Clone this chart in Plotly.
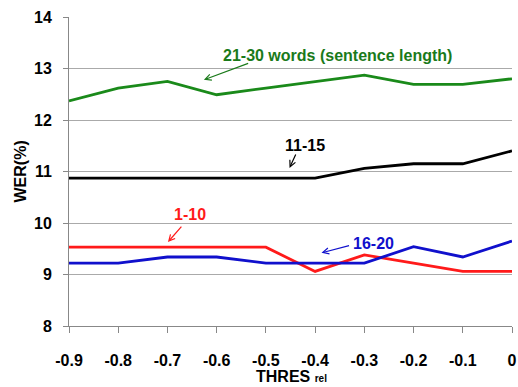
import plotly.graph_objects as go

x_vals = [-0.9, -0.8, -0.7, -0.6, -0.5, -0.4, -0.3, -0.2, -0.1, 0.0]
wer_21_30 = [12.37, 12.62, 12.75, 12.49, 12.62, 12.75, 12.87, 12.69, 12.69, 12.80]
wer_11_15 = [10.87, 10.87, 10.87, 10.87, 10.87, 10.87, 11.06, 11.15, 11.15, 11.40]
wer_1_10 = [9.53, 9.53, 9.53, 9.53, 9.53, 9.06, 9.38, 9.22, 9.06, 9.06]
wer_16_20 = [9.22, 9.22, 9.34, 9.34, 9.22, 9.22, 9.22, 9.54, 9.34, 9.65]
x_ticks = [-0.9, -0.8, -0.7, -0.6, -0.5, -0.4, -0.3, -0.2, -0.1, 0]
x_tick_labels = ["-0.9", "-0.8", "-0.7", "-0.6", "-0.5", "-0.4", "-0.3", "-0.2", "-0.1", "0"]
y_ticks = [8, 9, 10, 11, 12, 13, 14]

FONT = "Liberation Sans, Arial, sans-serif"

fig = go.Figure()
series = [
    (wer_21_30, "#1a8a1a"),
    (wer_11_15, "#000000"),
    (wer_1_10, "#ff1a1a"),
    (wer_16_20, "#1010cc"),
]
for ys, c in series:
    fig.add_trace(go.Scatter(x=x_vals, y=ys, mode="lines",
                             line=dict(color=c, width=2.8), showlegend=False))

labels = [
    ("<b>21-30 words (sentence length)</b>", -0.355, 13.26, -0.533, 13.11, -0.626, 12.78, "#1a7a1a"),
    ("<b>11-15</b>", -0.42, 11.5, -0.438, 11.36, -0.452, 11.07, "#000000"),
    ("<b>1-10</b>", -0.655, 10.16, -0.669, 9.96, -0.699, 9.63, "#ff1a1a"),
    ("<b>16-20</b>", -0.282, 9.61, -0.328, 9.57, -0.387, 9.42, "#1010cc"),
]
for txt, tx, ty, ax_, ay_, hx, hy, c in labels:
    fig.add_annotation(x=tx, y=ty, text=txt, showarrow=False,
                       font=dict(family=FONT, size=16, color=c))
    fig.add_annotation(x=hx, y=hy, ax=ax_, ay=ay_, axref="x", ayref="y",
                       text="", showarrow=True, arrowhead=5, arrowsize=1,
                       arrowwidth=1.2, arrowcolor=c)

# axis titles
fig.add_annotation(xref="paper", yref="paper", x=-0.1106, y=0.5, textangle=-90,
                   xanchor="center", yanchor="middle",
                   text="<b>WER(%)</b>", showarrow=False,
                   font=dict(family=FONT, size=16, color="black"))
fig.add_annotation(xref="paper", yref="paper", x=0.503, y=-0.163,
                   xanchor="center", yanchor="middle", borderpad=0,
                   text="<b>THRES <span style='font-size:10px'>rel</span></b>", showarrow=False,
                   font=dict(family=FONT, size=16, color="black"))

fig.update_layout(
    width=518, height=387,
    margin=dict(l=69, r=6, t=17, b=61, autoexpand=False),
    paper_bgcolor="white", plot_bgcolor="white",
    font=dict(family=FONT, size=16, color="black"),
    xaxis=dict(range=[-0.9, 0], tickvals=x_ticks, ticktext=[f"<b>{t}</b>" for t in x_tick_labels],
               showgrid=False, zeroline=False, showline=True, linecolor="#888888",
               linewidth=1, ticks="outside", ticklen=6, tickcolor="#888888",
               automargin=False, ticklabelstandoff=14),
    yaxis=dict(range=[8, 14], tickvals=y_ticks, ticktext=[f"<b>{t}</b>" for t in y_ticks],
               showgrid=True, gridcolor="#aaaaaa", gridwidth=1, zeroline=False,
               showline=True, linecolor="#888888", linewidth=1,
               ticks="outside", ticklen=5, tickcolor="#888888",
               automargin=False, ticklabelstandoff=8),
)

fig.write_html("out.html", config={"displayModeBar": False},
               post_script="document.body.style.margin='0';document.body.style.overflow='hidden';")
